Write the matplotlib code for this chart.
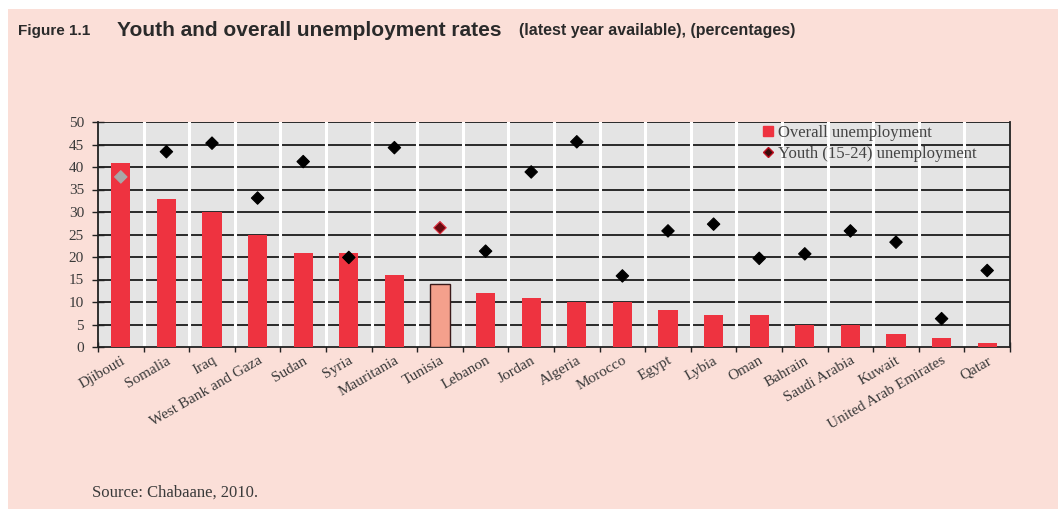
import matplotlib.pyplot as plt
import numpy as np
from matplotlib.patches import Rectangle
from matplotlib.lines import Line2D

countries = ["Djibouti", "Somalia", "Iraq", "West Bank and Gaza", "Sudan", "Syria",
             "Mauritania", "Tunisia", "Lebanon", "Jordan", "Algeria", "Morocco",
             "Egypt", "Lybia", "Oman", "Bahrain", "Saudi Arabia", "Kuwait",
             "United Arab Emirates", "Qatar"]
overall = [41.0, 33.0, 30.0, 25.0, 21.0, 21.0, 16.0, 14.0, 12.0, 11.0, 10.0, 10.0,
           8.2, 7.2, 7.2, 5.0, 5.0, 3.0, 2.0, 1.0]
youth = [37.8, 43.4, 45.3, 33.1, 41.2, 19.9, 44.3, 26.5, 21.3, 38.9, 45.6, 15.8,
         25.8, 27.3, 19.7, 20.7, 25.8, 23.3, 6.3, 17.0]
yticks = list(range(0, 51, 5))

pink = '#fbdfd8'
red = '#ee3340'
serif = ['Liberation Serif', 'DejaVu Serif']
sans = ['Liberation Sans', 'DejaVu Sans']

fig = plt.figure(figsize=(10.58, 5.09), dpi=100, facecolor='white')
W, H = 1058, 509
# pink panel (white margin on top and left)
fig.patches.append(Rectangle((8 / W, 0), 1 - 8 / W, 1 - 9 / H, transform=fig.transFigure,
                             facecolor=pink, edgecolor='none', zorder=-1))

ax = fig.add_axes([98 / W, 1 - 347 / H, 912 / W, 225 / H])
ax.set_facecolor('#e4e4e4')

x = np.arange(len(countries))
bar_colors = [red] * len(countries)
edge_colors = ['none'] * len(countries)
ti = countries.index("Tunisia")
bar_colors[ti] = '#f4a08c'
edge_colors[ti] = '#3a1a1a'
ax.bar(x, overall, width=0.42, color=bar_colors, edgecolor=edge_colors, linewidth=1.0, zorder=3)

mcolors = ['black'] * len(countries)
ecolors = ['black'] * len(countries)
mcolors[0] = '#a8a8a8'
ecolors[0] = '#a8a8a8'
mcolors[ti] = '#6a0a10'
ecolors[ti] = '#e03040'
ax.scatter(x, youth, marker='D', s=40, c=mcolors, edgecolors=ecolors, zorder=4, linewidths=0.8)

ax.set_xlim(-0.5, len(countries) - 0.5)
ax.set_ylim(0, 50)
ax.set_yticks(yticks)
ax.set_xticks(x)
ax.set_xticks(np.arange(-0.5, len(countries) + 0.5, 1), minor=True)
ax.set_xticklabels(countries, rotation=30, ha='right', rotation_mode='anchor',
                   family=serif, fontsize=11, color='#3a3a3a')
ax.tick_params(axis='x', which='major', length=0, pad=5)
ax.tick_params(axis='x', which='minor', direction='inout', length=7, width=1, color='#222222')
ax.tick_params(axis='y', direction='inout', length=8, width=1, color='#222222',
               labelsize=11, labelcolor='#3a3a3a', pad=6)
for lab in ax.get_yticklabels():
    lab.set_family(serif)

# grid
for v in yticks[1:]:
    ax.axhline(v, color='#1a1a1a', linewidth=1.3, zorder=1)
for b in np.arange(0.5, len(countries) - 0.5, 1):
    ax.axvline(b, color='white', linewidth=2.2, zorder=2)

for s in ['left', 'bottom', 'right']:
    ax.spines[s].set_color('#222222')
    ax.spines[s].set_linewidth(1.3)
ax.spines['top'].set_visible(False)

handles = [Line2D([], [], marker='s', color=red, linestyle='none', markersize=7),
           Line2D([], [], marker='D', color='#c01020', markerfacecolor='#3a0a0a',
                  linestyle='none', markersize=5)]
leg = ax.legend(handles, ['Overall unemployment', 'Youth (15-24) unemployment'],
                loc='upper left', bbox_to_anchor=(0.715, 1.03), frameon=False,
                prop={'family': serif, 'size': 12}, handletextpad=0.1,
                handlelength=1.0, labelspacing=0.3, borderaxespad=0.2)
for t in leg.get_texts():
    t.set_color('#444444')

# title
fig.text(18 / W, 1 - 31 / H, 'Figure 1.1', family=sans, fontweight='bold',
         fontsize=11, color='#2a2a2a', va='center')
fig.text(117 / W, 1 - 30 / H, 'Youth and overall unemployment rates', family=sans,
         fontweight='bold', fontsize=15, color='#2a2a2a', va='center')
fig.text(519 / W, 1 - 31 / H, '(latest year available), (percentages)', family=sans,
         fontweight='bold', fontsize=11.5, color='#2a2a2a', va='center')

fig.text(92 / W, 1 - 493 / H, 'Source: Chabaane, 2010.', family=serif,
         fontsize=12, color='#3a3a3a', va='center')

fig.savefig('out.png', dpi=100, facecolor='white')
